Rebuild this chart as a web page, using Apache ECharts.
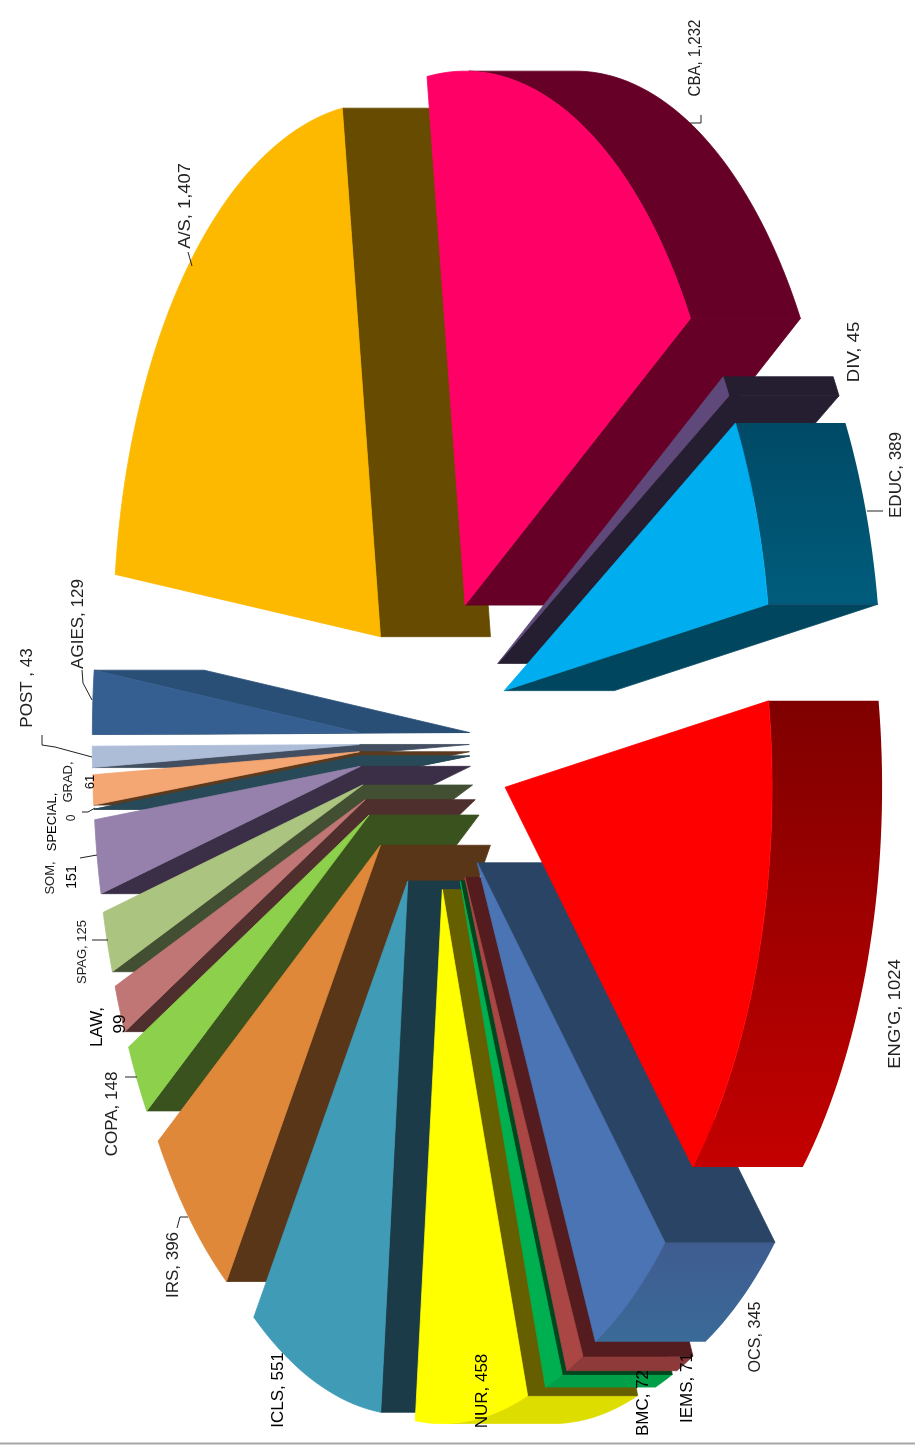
<!DOCTYPE html>
<html>
<head>
<meta charset="utf-8">
<style>html,body{margin:0;padding:0;background:#fff}#c{width:915px;height:1447px;filter:blur(0.6px)}</style>
<script src="https://cdn.jsdelivr.net/npm/echarts@6/dist/echarts.min.js"></script>
</head>
<body>
<div id="c"></div>
<script>
// ---- data ----
var categories = ['A/S','CBA','DIV','EDUC',"ENG'G",'OCS','IEMS','BMC','NUR','ICLS','IRS','COPA','LAW','SPAG','SOM','SPECIAL','GRAD','POST','AGIES'];
var enrolment  = [1407,1232,45,389,1024,345,71,72,458,551,396,148,99,125,151,0,61,43,129];

// ---- colours: top face, side wall, curved wall [top,bottom] ----
var faceColors = ['#fdb900','#ff0066','#5f497a','#00adee','#ff0000','#4a74b4','#aa4644','#00b050','#ffff00','#409bb7','#e0883a','#8cd04b','#c07674','#abc47f','#9581ab','#31859c','#f4a673','#adbdd8','#365f91'];
var wallColors = ['#664b00','#660026','#251e30','#00465f','#7f0000','#294464','#551c20','#00461f','#665f00','#1a3b47','#5a3618','#3a521e','#4f2e2e','#424f33','#3b2f47','#284a58','#5c3a1e','#434f60','#2a4f77'];
var arcColors  = [null,['#660026','#660026'],['#251e30','#251e30'],['#004a66','#005c7c'],['#7f0000','#c40000'],['#3f5c90','#3a6a97'],['#8f3a3a','#8f3a3a'],['#009f48','#009f48'],['#dddd00','#dddd00'],null,null,null,null,null,null,null,null,null,null];

// ---- pie geometry (chart layout) ----
var CX = 434, CY = 741, RX = 267, RY = 534;   // px centre and radii of the tilted pie
var EXPLODE = 0.28, DEPTH = 110 / RX, START_DEG = 6.7;

var total = enrolment.reduce(function (s, v) { return s + v; }, 0);
var starts = [], run = START_DEG;
enrolment.forEach(function (v) { starts.push(run); run += v / total * 360; });
function span(i) { return enrolment[i] / total * 360; }
function midU(i) { return -Math.cos((starts[i] + span(i) / 2) * Math.PI / 180); }
var drawOrder = enrolment.map(function (v, i) { return i; }).sort(function (a, b) { return midU(a) - midU(b); });

function renderSlice(params, api) {
  var i = api.value(0);
  var t1 = starts[i], t2 = t1 + span(i), mid = (t1 + t2) / 2 * Math.PI / 180;
  var tx = -Math.cos(mid) * EXPLODE, ty = -Math.sin(mid) * EXPLODE;
  function pt(deg, d) {
    var r = deg * Math.PI / 180;
    return [tx - Math.cos(r) + (d || 0), ty - Math.sin(r)];
  }
  function poly(units, fill, seam) {
    return { type: 'polygon', shape: { points: units.map(function (u) { return api.coord(u); }) },
      style: { fill: fill, stroke: seam || null, lineWidth: seam ? 0.8 : 0 } };
  }
  var kids = [], tip = [tx, ty], tip2 = [tx + DEPTH, ty];
  var N = Math.max(2, Math.ceil((t2 - t1) / 1.5));
  var arc = [];
  for (var k = 0; k <= N; k++) arc.push(t1 + (t2 - t1) * k / N);

  // curved wall
  var vis = arc.filter(function (d) { return d >= 90 && d <= 270; });
  if (arcColors[i] && vis.length > 1) {
    var up = vis.map(function (d) { return pt(d); });
    var low = vis.slice().reverse().map(function (d) { return pt(d, DEPTH); });
    kids.push(poly(up.concat(low), {
      type: 'linear', x: 0, y: 0, x2: 0, y2: 1,
      colorStops: [{ offset: 0, color: arcColors[i][0] }, { offset: 1, color: arcColors[i][1] }]
    }, arcColors[i][0] === arcColors[i][1] ? arcColors[i][0] : null));
  }
  // straight side walls that face the extrusion direction
  [[t1, t2], [t2, t1]].forEach(function (pair) {
    var e = pt(pair[0]), other = pt(pair[1]);
    var dx = e[0] - tx, dy = e[1] - ty;
    var side = (other[0] - tx) * dy - (other[1] - ty) * dx;
    var outX = side > 0 ? -dy : dy;
    if (span(i) === 0 || outX > 0) {
      kids.push(poly([tip, e, [e[0] + DEPTH, e[1]], tip2], wallColors[i], wallColors[i]));
    }
  });
  // top face
  if (span(i) > 0) {
    kids.push(poly([tip].concat(arc.map(function (d) { return pt(d); })), faceColors[i], faceColors[i]));
  }
  return { type: 'group', children: kids };
}

// ---- text labels: text, centre x, centre y, font size, stretch along the text, colour ----
var labels = [
  ['A/S, 1,407',185,206,17,1.08],['CBA, 1,232',695,58,17,0.885],['DIV, 45',854,352,17,1.1],
  ['EDUC, 389',896,475,17,1],["ENG'G, 1024",895,1014,17,1.09],['OCS, 345',755,1337,17,0.95],
  ['IEMS, 71',687,1388,17,1,'#000'],['BMC, 72',643,1403,17,1,'#000'],['NUR, 458',482,1391,17,1,'#000'],
  ['ICLS, 551',278,1390,17,1,'#000'],['IRS, 396',173,1265,17,1],['COPA, 148',112,1114,17,1],
  ['LAW,',97,1027,17,1,'#000'],['99',120,1024,17,1,'#000'],['SPAG, 125',82,952,13,1],
  ['SOM,',50,878,13,1],['151',72,877,14,1,'#000'],['SPECIAL,',52,822,13,1,'#000'],['0',72,818,12,1],
  ['GRAD,',68,782,13,1],['61',90,782,13,1,'#000'],['POST , 43',27,688,17,1],['AGIES, 129',78,624,17,1]
];
var leaders = [
  [[82,670],[83,683],[92,700]],[[42,735],[42,745],[55,747],[92,757]],[[82,812],[88,812],[95,808]],
  [[80,858],[97,855]],[[92,940],[108,940]],[[125,1077],[137,1077]],[[177,1228],[180,1217],[188,1217]],
  [[867,511],[883,511]],[[188,252],[192,266]],[[690,123],[701,123],[701,115]]
];

var graphics = labels.map(function (l) {
  return { type: 'text', x: l[1], y: l[2], z: 10, rotation: Math.PI / 2, scaleX: l[4], silent: true,
    style: { text: l[0], fontFamily: 'Liberation Sans', fontSize: l[3], fill: l[5] || '#222', align: 'center', verticalAlign: 'middle' } };
}).concat(leaders.map(function (p) {
  return { type: 'polyline', z: 10, shape: { points: p }, silent: true, style: { stroke: '#222', lineWidth: 1, fill: null } };
})).concat([
  { type: 'line', z: 10, shape: { x1: 0, y1: 1443.5, x2: 915, y2: 1443.5 }, silent: true, style: { stroke: '#a6a6a6', lineWidth: 2 } }
]);

var chart = echarts.init(document.getElementById('c'), null, { width: 915, height: 1447 });
chart.setOption({
  animation: false,
  backgroundColor: '#fff',
  grid: { left: 0, right: 0, top: 0, bottom: 0 },
  xAxis: { type: 'value', show: false, min: -CX / RX, max: (915 - CX) / RX },
  yAxis: { type: 'value', show: false, inverse: true, min: -CY / RY, max: (1447 - CY) / RY },
  graphic: graphics,
  series: [{
    type: 'custom', coordinateSystem: 'cartesian2d', clip: false,
    renderItem: renderSlice,
    encode: { x: 0, y: 0 },
    data: drawOrder.map(function (i) { return { value: [i], name: categories[i] }; })
  }]
});
</script>
</body>
</html>
